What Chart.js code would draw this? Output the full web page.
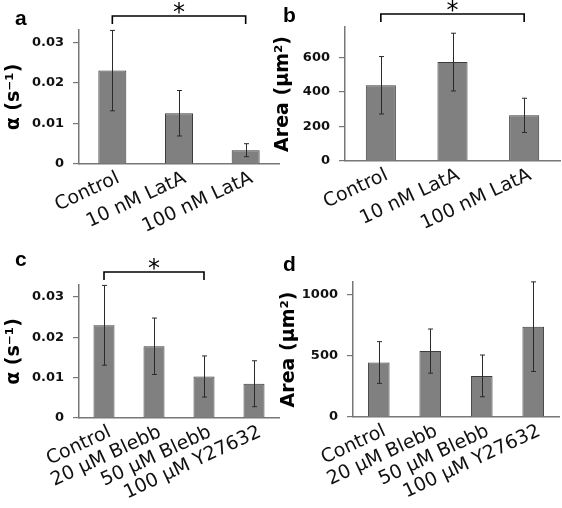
<!DOCTYPE html>
<html><head><meta charset="utf-8">
<script src="https://cdn.jsdelivr.net/npm/chart.js@4.4.0/dist/chart.umd.min.js"></script>
<style>
html,body{margin:0;padding:0;background:#fff;}
#wrap{position:relative;width:562px;height:508px;overflow:hidden;background:#fff;}
canvas{position:absolute;}
</style></head><body>
<div id="wrap">
<canvas id="cb" width="294" height="254" style="left:268px;top:0px"></canvas>
<canvas id="cd" width="294" height="254" style="left:268px;top:254px"></canvas>
<canvas id="ca" width="281" height="254" style="left:0px;top:0px"></canvas>
<canvas id="cc" width="281" height="254" style="left:0px;top:254px"></canvas>
</div>
<script>
// ---- data ----
const catsLat = ['Control', '10 nM LatA', '100 nM LatA'];
const alphaLat = [0.0230, 0.0125, 0.0034];
const alphaLatErr = [0.0099, 0.0056, 0.0016];
const areaLat = [438, 572, 264];
const areaLatErr = [166, 167, 99];

const catsBleb = ['Control', '20 μM Blebb', '50 μM Blebb', '100 μM Y27632'];
const alphaBleb = [0.0230, 0.0178, 0.0103, 0.0085];
const alphaBlebErr = [0.0099, 0.0070, 0.0051, 0.0057];
const areaBleb = [444, 537, 335, 736];
const areaBlebErr = [170, 180, 170, 365];

const alphaTicks = [0, 0.01, 0.02, 0.03];
const alphaTickLabels = ['0', '0.01', '0.02', '0.03'];
const areaLatTicks = [0, 200, 400, 600];
const areaLatTickLabels = ['0', '200', '400', '600'];
const areaBlebTicks = [0, 500, 1000];
const areaBlebTickLabels = ['0', '500', '1000'];

const sigLat = [0, 2];
const sigBleb = [0, 2];

// ---- drawing helpers ----
const annot = {
  id: 'annot',
  afterDatasetsDraw(chart, args, o) {
    const ctx = chart.ctx, xs = chart.scales.x, ys = chart.scales.y;
    const vals = chart.data.datasets[0].data;
    ctx.save();
    ctx.strokeStyle = '#2a2a2a';
    ctx.lineWidth = 1;
    vals.forEach((v, i) => {
      const e = o.errors[i];
      const x = Math.round(xs.getPixelForValue(i)) + 0.5;
      const y1 = ys.getPixelForValue(v + e), y2 = ys.getPixelForValue(v - e);
      ctx.beginPath();
      ctx.moveTo(x, y1); ctx.lineTo(x, y2);
      ctx.moveTo(x - 2.5, y1); ctx.lineTo(x + 2.5, y1);
      ctx.moveTo(x - 2.5, y2); ctx.lineTo(x + 2.5, y2);
      ctx.stroke();
    });
    ctx.restore();
  },
  afterDraw(chart, args, o) {
    const ctx = chart.ctx, xs = chart.scales.x, top = chart.chartArea.top;
    ctx.save();
    if (o.sig) {
      const xa = xs.getPixelForValue(o.sig[0]), xb = xs.getPixelForValue(o.sig[1]);
      const ly = top - o.bracketUp;
      ctx.strokeStyle = '#000';
      ctx.lineWidth = 1.6;
      ctx.beginPath();
      ctx.moveTo(xa, ly + 8); ctx.lineTo(xa, ly); ctx.lineTo(xb, ly); ctx.lineTo(xb, ly + 8);
      ctx.stroke();
      ctx.fillStyle = '#000';
      ctx.font = '24px "DejaVu Sans"';
      ctx.textAlign = 'center';
      ctx.textBaseline = 'alphabetic';
      ctx.fillText('*', (xa + xb) / 2, ly + 4);
    }
    ctx.fillStyle = '#000';
    ctx.font = 'bold 21px "Liberation Sans"';
    ctx.textAlign = 'left';
    ctx.textBaseline = 'alphabetic';
    ctx.fillText(o.letter, o.lx, o.ly);
    ctx.restore();
  }
};

function makeChart(id, cats, vals, errs, yMax, tickVals, tickLabels, yTitle, lay, ann) {
  return new Chart(document.getElementById(id), {
    type: 'bar',
    data: {
      labels: cats,
      datasets: [{
        data: vals,
        backgroundColor: '#808080',
        borderColor: '#3c3c3c',
        borderWidth: 1,
        categoryPercentage: 1,
        barPercentage: 0.42
      }]
    },
    options: {
      responsive: false,
      animation: false,
      devicePixelRatio: 1,
      layout: { padding: { top: lay.top, right: lay.right, left: 0, bottom: 0 } },
      plugins: { legend: { display: false }, tooltip: { enabled: false }, annot: ann },
      scales: {
        x: {
          offset: true,
          afterFit: s => { s.height = lay.xh; },
          ticks: { autoSkip: false, minRotation: 25, maxRotation: 25, padding: 3, labelOffset: 6,
                   font: { family: 'DejaVu Sans', size: 19 }, color: '#111' },
          grid: { display: false, drawTicks: false },
          border: { display: true, color: '#777', width: 1.5 }
        },
        y: {
          min: 0, max: yMax,
          afterBuildTicks: s => { s.ticks = tickVals.map(v => ({ value: v })); },
          afterFit: s => { s.width = lay.yw; },
          ticks: { callback: (v, i) => tickLabels[i], padding: 9,
                   font: { family: 'DejaVu Sans', weight: 'bold', size: 13 }, color: '#111' },
          grid: { display: true, drawOnChartArea: false, drawTicks: true, tickLength: 6, color: '#777', lineWidth: 1.2 },
          border: { display: true, color: '#777', width: 1.5 },
          title: { display: true, text: yTitle, color: '#000', padding: { top: lay.tp, bottom: 0 },
                   font: { family: 'DejaVu Sans', weight: 'bold', size: lay.tf } }
        }
      }
    },
    plugins: [annot]
  });
}

makeChart('ca', catsLat, alphaLat, alphaLatErr, 0.033, alphaTicks, alphaTickLabels, 'α (s⁻¹)',
  { top: 30, right: 2, xh: 90, yw: 79, tp: 3, tf: 19 },
  { errors: alphaLatErr, sig: sigLat, bracketUp: 14, letter: 'a', lx: 15, ly: 25 });
makeChart('cb', catsLat, areaLat, areaLatErr, 775, areaLatTicks, areaLatTickLabels, 'Area (μm²)',
  { top: 27, right: 2, xh: 93, yw: 77, tp: 4, tf: 19 },
  { errors: areaLatErr, sig: sigLat, bracketUp: 13, letter: 'b', lx: 15, ly: 22 });
makeChart('cc', catsBleb, alphaBleb, alphaBlebErr, 0.033, alphaTicks, alphaTickLabels, 'α (s⁻¹)',
  { top: 31, right: 2, xh: 90, yw: 79, tp: 3, tf: 19 },
  { errors: alphaBlebErr, sig: sigBleb, bracketUp: 13, letter: 'c', lx: 15, ly: 12 });
makeChart('cd', catsBleb, areaBleb, areaBlebErr, 1100, areaBlebTicks, areaBlebTickLabels, 'Area (μm²)',
  { top: 28, right: 3, xh: 91, yw: 85, tp: 10, tf: 19 },
  { errors: areaBlebErr, sig: null, letter: 'd', lx: 15, ly: 17 });
</script>
</body></html>
